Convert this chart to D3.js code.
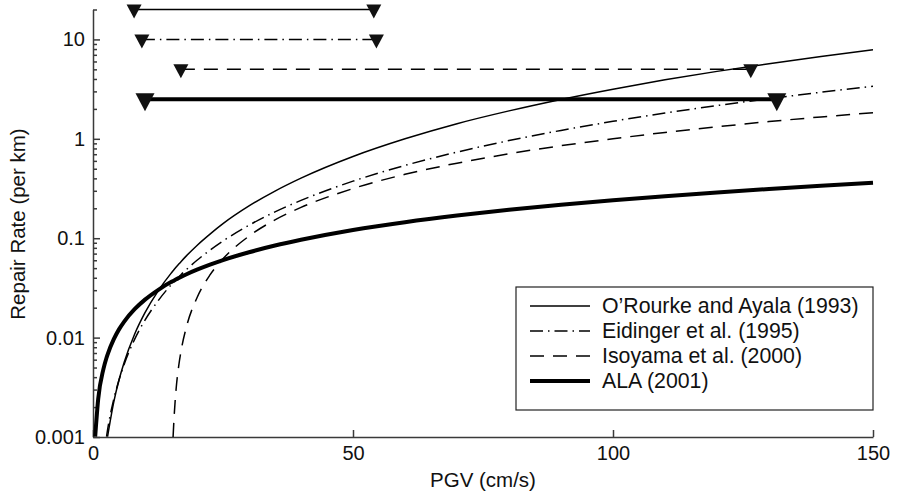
<!DOCTYPE html>
<html>
<head>
<meta charset="utf-8">
<script src="https://cdn.jsdelivr.net/npm/d3@7"></script>
<style>
  body { margin: 0; background: #fff; }
  svg { display: block; font-family: "Liberation Sans", Arial, sans-serif; }
  .axis path, .axis line { stroke: #3a3a3a; stroke-width: 1.5; }
  .axis text { font-size: 20px; fill: #111; }
</style>
</head>
<body>
<div id="chart"></div>
<script>
// ---- data ----
var pgv = [0.42, 1, 2, 2.6, 2.8, 4, 5, 6, 8, 10, 12.5, 15, 15.4, 15.6, 16, 16.5, 17, 18, 20, 22.5, 25,
           30, 35, 40, 50, 60, 70, 80, 90, 100, 110, 120, 130, 140, 150];

var orourke = [null, null, null, null, 0.00101, 0.00226, 0.00374, 0.00564, 0.0108, 0.0178, 0.0294, 0.0443,
               0.047, 0.0484, 0.0512, 0.0549, 0.0587, 0.0668, 0.0846, 0.110, 0.140,
               0.211, 0.298, 0.402, 0.664, 1.00, 1.42, 1.91, 2.49, 3.16, 3.92, 4.77, 5.70, 6.74, 7.87];

var eidinger = [null, null, null, 0.00101, 0.00118, 0.0024, 0.00375, 0.0054, 0.0096, 0.015, 0.0234, 0.0338,
                0.0356, 0.0365, 0.0384, 0.0408, 0.0434, 0.0486, 0.060, 0.0759, 0.0938,
                0.135, 0.184, 0.240, 0.375, 0.540, 0.735, 0.960, 1.215, 1.50, 1.815, 2.16, 2.535, 2.94, 3.375];

var isoyama = [null, null, null, null, null, null, null, null, null, null, null, null,
               0.001, 0.0016, 0.00311, 0.00527, 0.00766, 0.013, 0.0252, 0.0427, 0.062,
               0.105, 0.153, 0.204, 0.316, 0.439, 0.569, 0.707, 0.852, 1.00, 1.16, 1.32, 1.49, 1.66, 1.83];

var ala = [0.00101, 0.00241, 0.00482, 0.00627, 0.00675, 0.00964, 0.0121, 0.0145, 0.0193, 0.0241, 0.0301, 0.0362,
           0.0371, 0.0376, 0.0386, 0.0398, 0.041, 0.0434, 0.0482, 0.0542, 0.0603,
           0.0723, 0.0844, 0.0964, 0.121, 0.145, 0.169, 0.193, 0.217, 0.241, 0.265, 0.289, 0.313, 0.337, 0.362];

// applicability ranges shown as marker bars at the top
var seriesNames = ["O\u2019Rourke and Ayala (1993)", "Eidinger et al. (1995)", "Isoyama et al. (2000)", "ALA (2001)"];
var rangeLevel = [20, 10, 5, 2.5];
var rangeStart = [7.9, 9.4, 16.9, 10];
var rangeEnd = [54, 54.5, 126.5, 131.5];

var xTicks = [0, 50, 100, 150];
var yTicks = [0.001, 0.01, 0.1, 1, 10];
var yTickLabels = ["0.001", "0.01", "0.1", "1", "10"];

// ---- chart area ----
var svgWidth = 898;
var svgHeight = 498;

var svg = d3.select("#chart")
  .append("svg")
  .attr("width", svgWidth)
  .attr("height", svgHeight);

var xScale = d3.scaleLinear()
  .domain([0, 150])
  .range([93, 873]);

var yScale = d3.scaleLog()
  .domain([0.001, 20])
  .range([437, 9.5]);

// line styles per series
var styles = [
  { width: 1.5, dash: null },
  { width: 1.5, dash: "13,5,1.5,5" },
  { width: 1.5, dash: "14,9" },
  { width: 4, dash: null }
];
var seriesValues = [orourke, eidinger, isoyama, ala];

// ---- axes ----
var minorTicks = [];
[0.001, 0.01, 0.1, 1, 10].forEach(function(d) {
  for (var k = 2; k <= 9; k++) {
    if (d * k <= 20) minorTicks.push(d * k);
  }
});

svg.append("g")
  .attr("class", "axis")
  .attr("transform", "translate(93,0)")
  .call(d3.axisLeft(yScale).tickValues(minorTicks).tickSize(-4).tickFormat(""))
  .call(g => g.select(".domain").remove());

svg.append("g")
  .attr("class", "axis")
  .attr("transform", "translate(93,0)")
  .call(d3.axisLeft(yScale).tickValues(yTicks).tickSizeInner(-7).tickSizeOuter(0)
    .tickFormat((d, i) => yTickLabels[i]))
  .call(g => g.selectAll("text").attr("x", -8));

svg.append("g")
  .attr("class", "axis")
  .attr("transform", "translate(0,437)")
  .call(d3.axisBottom(xScale).tickValues(xTicks).tickSizeInner(-7).tickSizeOuter(0))
  .call(g => g.selectAll("text").attr("y", 9));

// axis titles
svg.append("text")
  .attr("x", (93 + 873) / 2)
  .attr("y", 487)
  .attr("text-anchor", "middle")
  .attr("font-size", "20.5px")
  .attr("fill", "#111")
  .text("PGV (cm/s)");

svg.append("text")
  .attr("transform", "rotate(-90)")
  .attr("x", -224)
  .attr("y", 25)
  .attr("text-anchor", "middle")
  .attr("font-size", "20.5px")
  .attr("fill", "#111")
  .text("Repair Rate (per km)");

// ---- curves ----
var line = d3.line()
  .defined(d => d[1] != null)
  .x(d => xScale(d[0]))
  .y(d => yScale(d[1]))
  .curve(d3.curveMonotoneX);

seriesValues.forEach(function(vals, i) {
  svg.append("path")
    .datum(pgv.map((p, j) => [p, vals[j]]))
    .attr("fill", "none")
    .attr("stroke", "#000")
    .attr("stroke-width", styles[i].width)
    .attr("stroke-dasharray", styles[i].dash)
    .attr("d", line);
});

// ---- range bars with triangle markers ----
seriesNames.forEach(function(name, i) {
  var yv = yScale(rangeLevel[i]);
  svg.append("line")
    .attr("x1", xScale(rangeStart[i]))
    .attr("x2", xScale(rangeEnd[i]))
    .attr("y1", yv)
    .attr("y2", yv)
    .attr("stroke", "#000")
    .attr("stroke-width", styles[i].width)
    .attr("stroke-dasharray", styles[i].dash);

  var big = i === 3;
  var hw = big ? 9.5 : 7.5, up = big ? 6 : 5, down = big ? 12 : 9;
  [rangeStart[i], rangeEnd[i]].forEach(function(v) {
    var xv = xScale(v);
    svg.append("path")
      .attr("d", `M${xv - hw},${yv - up}L${xv + hw},${yv - up}L${xv},${yv + down}Z`)
      .attr("fill", "#111");
  });
});

// ---- legend ----
var legend = svg.append("g");
legend.append("rect")
  .attr("x", 516)
  .attr("y", 287)
  .attr("width", 357)
  .attr("height", 123)
  .attr("fill", "#fff")
  .attr("stroke", "#222")
  .attr("stroke-width", 1.2);

seriesNames.forEach(function(name, i) {
  var ly = 306 + i * 25;
  legend.append("line")
    .attr("x1", 530)
    .attr("x2", 590)
    .attr("y1", ly)
    .attr("y2", ly)
    .attr("stroke", "#000")
    .attr("stroke-width", styles[i].width)
    .attr("stroke-dasharray", styles[i].dash);
  legend.append("text")
    .attr("x", 602)
    .attr("y", ly)
    .attr("dy", "0.35em")
    .attr("font-size", "21.3px")
    .attr("fill", "#111")
    .text(name);
});
</script>
</body>
</html>
